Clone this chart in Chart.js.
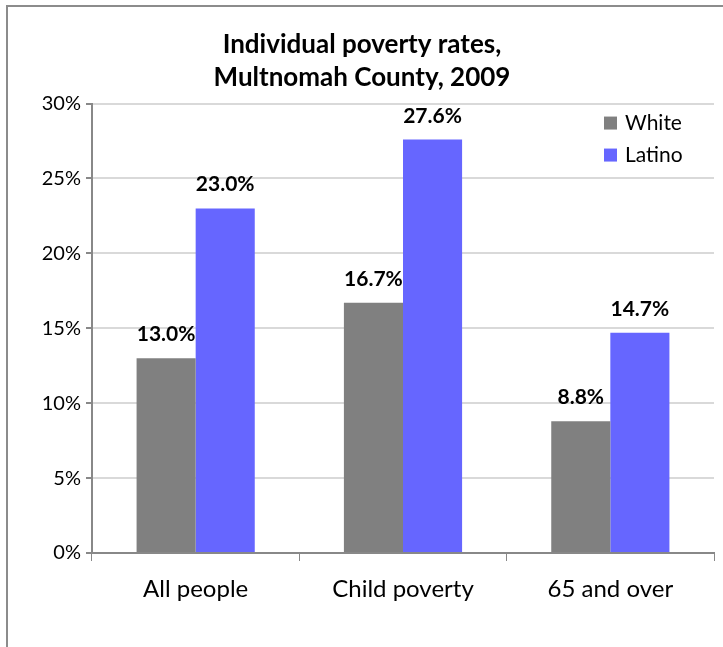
<!DOCTYPE html>
<html>
<head>
<meta charset="utf-8">
<script src="https://cdn.jsdelivr.net/npm/chart.js@4.4.1/dist/chart.umd.min.js"></script>
<style>
  html, body { margin: 0; padding: 0; background: #fff; }
  #wrap { width: 723px; height: 647px; position: relative; }
</style>
</head>
<body>
<div id="wrap"><canvas id="povertyChart" width="723" height="647"></canvas></div>
<script>
'use strict';

// chart data
var categories = ['All people', 'Child poverty', '65 and over'];
var whiteRates = [13.0, 16.7, 8.8];
var latinoRates = [23.0, 27.6, 14.7];
var seriesNames = ['White', 'Latino'];
var seriesColors = ['#808080', '#6666FF'];
var titleLines = ['Individual poverty rates,', 'Multnomah County, 2009'];
var yTicks = [0, 5, 10, 15, 20, 25, 30];

var FONT = 'Lato, "Open Sans", sans-serif';

/**
 * Draws the outer frame of the chart object (only top and left edges show)
 */
var framePlugin = {
    id: 'frame',
    beforeDraw: function(chart) {
        var ctx = chart.ctx;
        ctx.save();
        ctx.strokeStyle = '#8c8c8c';
        ctx.lineWidth = 2;
        ctx.beginPath();
        ctx.moveTo(7, chart.height + 5);
        ctx.lineTo(7, 6);
        ctx.lineTo(chart.width + 5, 6);
        ctx.stroke();
        ctx.restore();
    }
};

/**
 * Value labels above each bar
 */
var valueLabels = {
    id: 'valueLabels',
    afterDatasetsDraw: function(chart) {
        var ctx = chart.ctx;
        ctx.save();
        ctx.font = 'bold 21px ' + FONT;
        ctx.fillStyle = '#000';
        ctx.textAlign = 'center';
        ctx.textBaseline = 'alphabetic';
        chart.data.datasets.forEach(function(ds, i) {
            chart.getDatasetMeta(i).data.forEach(function(bar, j) {
                ctx.fillText(ds.data[j].toFixed(1) + '%', bar.x, bar.y - 17);
            });
        });
        ctx.restore();
    }
};

/**
 * Legend inside the plot area, top right
 */
var insideLegend = {
    id: 'insideLegend',
    afterDraw: function(chart) {
        var ctx = chart.ctx;
        var area = chart.chartArea;
        var x = area.right - 110;
        var y = area.top + 13;
        ctx.save();
        ctx.font = '21px ' + FONT;
        ctx.textBaseline = 'middle';
        chart.data.datasets.forEach(function(ds, i) {
            var rowY = y + i * 32;
            ctx.fillStyle = ds.backgroundColor;
            ctx.fillRect(x, rowY, 13, 13);
            ctx.fillStyle = '#000';
            ctx.fillText(ds.label, x + 21, rowY + 7);
        });
        ctx.restore();
    }
};

var ctx = document.getElementById('povertyChart');
new Chart(ctx, {
    type: 'bar',
    data: {
        labels: categories,
        datasets: [{
            label: seriesNames[0],
            data: whiteRates,
            backgroundColor: seriesColors[0],
            categoryPercentage: 0.57,
            barPercentage: 1.0
        }, {
            label: seriesNames[1],
            data: latinoRates,
            backgroundColor: seriesColors[1],
            categoryPercentage: 0.57,
            barPercentage: 1.0
        }]
    },
    options: {
        responsive: false,
        animation: false,
        layout: {
            padding: { top: 6, left: 10, right: 9, bottom: 0 }
        },
        plugins: {
            legend: { display: false },
            tooltip: { enabled: false },
            title: {
                display: true,
                text: titleLines,
                color: '#000',
                font: { family: FONT, size: 26, weight: 'bold', lineHeight: 1.28 },
                padding: { top: 22, bottom: 9 }
            }
        },
        scales: {
            x: {
                grid: {
                    offset: true,
                    drawOnChartArea: false,
                    drawTicks: true,
                    tickLength: 8,
                    tickColor: '#888'
                },
                border: { color: '#888', width: 2 },
                ticks: {
                    color: '#000',
                    font: { family: FONT, size: 24 },
                    padding: 14
                },
                afterFit: function(scale) { scale.height = 94; }
            },
            y: {
                min: 0,
                max: 30,
                afterBuildTicks: function(scale) {
                    scale.ticks = yTicks.map(function(v) { return { value: v }; });
                },
                grid: {
                    color: '#d9d9d9',
                    lineWidth: 2,
                    tickLength: 6,
                    tickColor: '#888'
                },
                border: { color: '#888', width: 2 },
                ticks: {
                    color: '#000',
                    font: { family: FONT, size: 20 },
                    padding: 5,
                    callback: function(v) { return v + '%'; }
                },
                afterFit: function(scale) { scale.width = 82; }
            }
        }
    },
    plugins: [framePlugin, valueLabels, insideLegend]
});
</script>
</body>
</html>
